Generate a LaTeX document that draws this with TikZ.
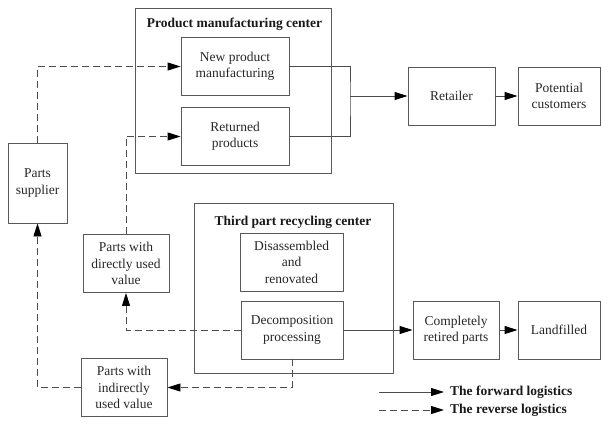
\documentclass[tikz,border=0pt]{standalone}
\usepackage{fontspec}
\setmainfont{Liberation Serif}
\usetikzlibrary{arrows.meta,positioning}

\begin{document}
\begin{tikzpicture}[
    x=1pt,
    y=-1pt,
    box/.style={
      draw=black!65,
      line width=.9pt,
      align=center,
      inner sep=0,
      minimum height=58,
      font=\fontsize{13.5}{16.5}\selectfont,
      text=black!85,
    },
    center/.style={
      draw=black!65,
      line width=.9pt,
      inner sep=0,
    },
    title/.style={
      inner sep=0,
      font=\bfseries\fontsize{13.5}{16}\selectfont,
      text=black!90,
    },
    forward/.style={
      line width=.9pt,
      color=black!70,
      -{Triangle[length=13pt,width=8pt,color=black]},
    },
    reverse/.style={
      forward,
      dash pattern=on 7pt off 4pt,
    },
  ]
    \useasboundingbox (0,0) rectangle (601,423);

    % the two centers
    \node[center,minimum width=196,minimum height=165] (pmc) at (233,90.5) {};
    \node[title] (pmctitle) at (234.5,24) {Product manufacturing center};
    \node[center,minimum width=199,minimum height=170] (trc) at (293.5,288) {};
    \node[title] (trctitle) at (293,222) {Third part recycling center};

    \node[box,minimum width=108] (newprod) at (235,66.5) {New product\\manufacturing};
    \node[box,minimum width=108] (returned) at (235,136.5) {Returned\\products};
    \node[box,minimum width=87] (retailer) at (451.5,96) {Retailer};
    \node[box,minimum width=82] (customers) at (559,96) {Potential\\customers};

    \node[box,minimum width=59,minimum height=80] (supplier) at (37.5,183) {Parts\\supplier};
    \node[box,minimum width=86] (direct) at (126,263.5) {Parts with\\directly used\\value};
    \node[box,minimum width=86] (indirect) at (124,387.5) {Parts with\\indirectly\\used value};

    \node[box,minimum width=103] (disasm) at (291.5,262) {Disassembled\\and\\renovated};
    \node[box,minimum width=102] (decomp) at (292,330) {Decomposition\\processing};
    \node[box,minimum width=86] (retired) at (456,330) {Completely\\retired parts};
    \node[box,minimum width=82] (landfill) at (559,330) {Landfilled};

    % forward flow
    \coordinate (merge) at (350,96);
    \draw[line width=.9pt,black!70] (newprod.east) -| (merge) |- (returned.east);
    \draw[forward] (merge) -- (retailer);
    \draw[forward] (retailer) -- (customers);
    \draw[forward] (decomp) -- (retired);
    \draw[forward] (retired) -- (landfill);

    % reverse flow
    \draw[reverse] (supplier.north) |- (newprod.west);
    \draw[reverse] (direct.north) |- (returned.west);
    \draw[reverse] (decomp.west) -| (direct.south);
    \draw[reverse] (decomp.south) |- (indirect.east);
    \draw[reverse] (indirect.west) -| (supplier.south);

    % legend
    \node[title,anchor=west] (fwdlabel) at (450,392) {The forward logistics};
    \node[title,anchor=west] (revlabel) at (450,410) {The reverse logistics};
    \coordinate (fwdstart) at (379,392);
    \coordinate (revstart) at (379,410);
    \draw[forward,shorten >=6pt] (fwdstart) -- (fwdlabel.west);
    \draw[reverse,shorten >=6pt] (revstart) -- (revlabel.west);
  \end{tikzpicture}
\end{document}
